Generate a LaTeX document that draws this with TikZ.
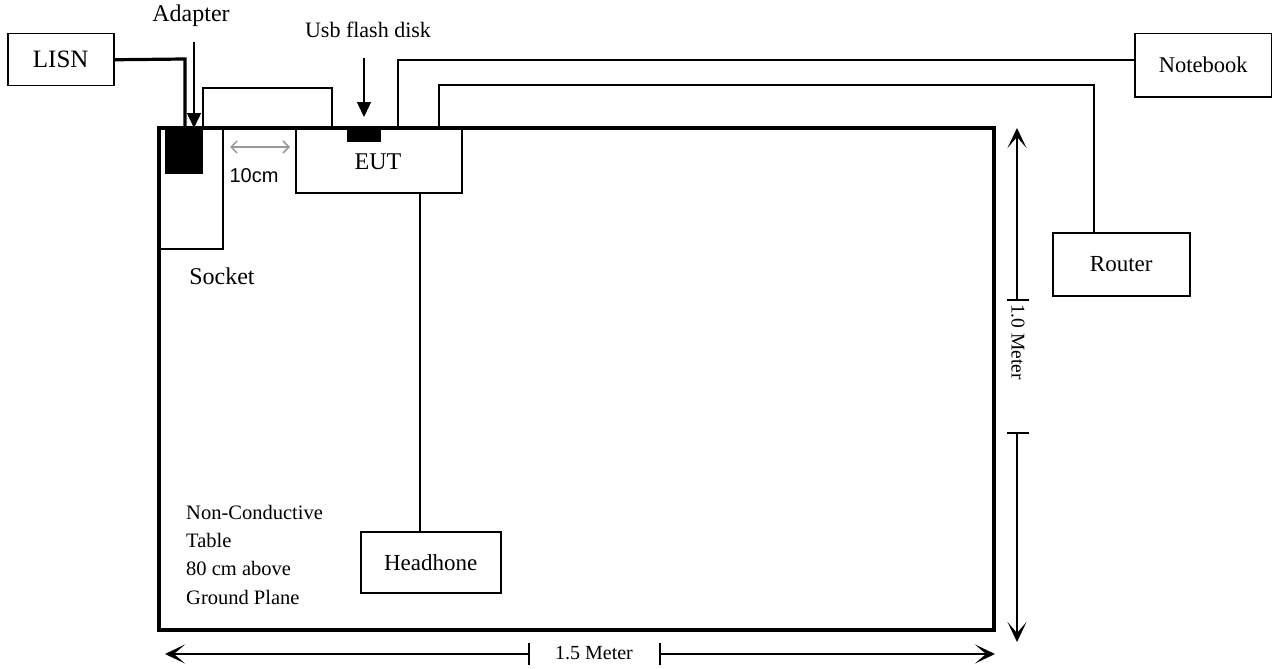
\documentclass[tikz,border=0pt]{standalone}
\usepackage{fontspec}
\setmainfont{Liberation Serif}
\setsansfont{Liberation Sans}
\usetikzlibrary{arrows.meta}
\begin{document}
\begin{tikzpicture}[x=1pt,y=-1pt,
  box/.style={draw,line width=1.5pt,inner sep=0pt,anchor=north west},
  thin/.style={line width=1.5pt},
  thick3/.style={line width=3.2pt},
  lbl/.style={inner sep=0pt,font=\fontsize{23}{26}\selectfont},
  small/.style={inner sep=0pt,font=\fontsize{20.5}{24}\selectfont,anchor=west},
  dim/.style={line width=1.5pt,-{Stealth[length=20pt,width=19pt,inset=11pt]}},
  ptr/.style={line width=1.5pt,-{Triangle[length=15pt,width=14pt]}},
  tick/.style={line width=1.5pt}]
\useasboundingbox (0,0) rectangle (1272,669);
% table
\draw[thick3] (159,128) rectangle (994,630);
% socket
\draw[thin] (159,128) rectangle (223,249);
\node[lbl,font=\fontsize{24}{26}\selectfont] (socket) at (222,276) {Socket};
% adapter block
\fill (165,130) rectangle (203,174);
\coordinate (adtop) at (203,130);
% EUT
\node[box,minimum width=166pt,minimum height=64pt] (eut) at (295,128) {};
\node[lbl,font=\fontsize{24}{26}\selectfont] (eutlbl) at (378,162) {EUT};
% USB block
\fill (347,128) rectangle (381,142);
% LISN
\node[box,minimum width=106pt,minimum height=52pt] (lisn) at (7,33) {};
\node[lbl,font=\fontsize{25}{28}\selectfont] at (lisn.center) {LISN};
% Notebook
\node[box,minimum width=137pt,minimum height=63pt] (note) at (1134,33) {};
\node[lbl,font=\fontsize{22.5}{26}\selectfont] at (note.center) {Notebook};
% Router
\node[box,minimum width=137pt,minimum height=63pt] (router) at (1052,232) {};
\node[lbl] at (router.center) {Router};
% Headhone
\node[box,minimum width=140pt,minimum height=61pt] (head) at (360,531) {};
\node[lbl] at (head.center) {Headhone};
% cables
\draw[thick3,line join=miter] (lisn.east) -- (185,59) -- (185,128);
\draw[thin] (adtop) -- (203,88) -- (332,88) -- (332,128);
\draw[thin] (398,128) -- (398,60) -- (note.west |- 0,60);
\draw[thin] (439,128) -- (439,85) -- (1094,85) -- (router.north -| 1094,0);
\draw[thin] (420,192) -- (head.north -| 420,0);
% labels with pointers
\node[lbl,font=\fontsize{24}{26}\selectfont] (adlbl) at (191,16) {Adapter};
\draw[ptr] (194,42) -- (194,128);
\node[lbl,font=\fontsize{22}{26}\selectfont] (usblbl) at (368,30) {Usb flash disk};
\draw[ptr] (364,58) -- (364,117);
% 10cm
\draw[line width=1.5pt,gray!80,{Straight Barb[length=6pt,width=12pt]}-{Straight Barb[length=6pt,width=12pt]}] (230,147) -- (290,147);
\node[lbl,font=\sffamily\fontsize{20}{24}\selectfont] (tencm) at (254,176) {10cm};
% table text
\node[small] at (186,512) {Non-Conductive};
\node[small] at (186,540) {Table};
\node[small] at (186,568) {80 cm above};
\node[small] at (186,597) {Ground Plane};
% horizontal dimension
\node[lbl,font=\fontsize{20}{24}\selectfont] (w) at (594,653) {1.5 Meter};
\draw[dim] (529,654) -- (165,654);
\draw[dim] (660,654) -- (995,654);
\draw[tick] (529,643) -- (529,665);
\draw[tick] (660,643) -- (660,665);
% vertical dimension
\node[lbl,font=\fontsize{19.5}{24}\selectfont,rotate=-90] (h) at (1018,342) {1.0 Meter};
\draw[dim] (1017,300) -- (1017,128);
\draw[dim] (1017,433) -- (1017,642);
\draw[tick] (1007,300) -- (1029,300);
\draw[tick] (1007,433) -- (1029,433);
\end{tikzpicture}
\end{document}
